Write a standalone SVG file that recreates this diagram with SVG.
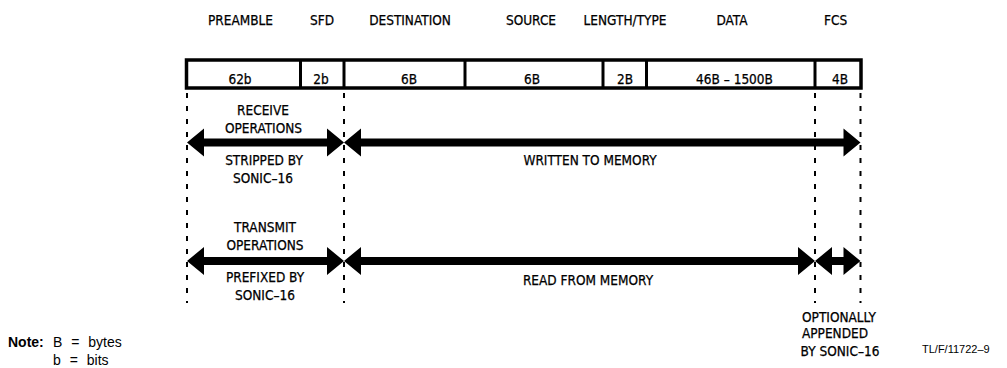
<svg xmlns="http://www.w3.org/2000/svg" width="1007" height="368" viewBox="0 0 1007 368">
<style>
.t{font-family:"DejaVu Sans Condensed","DejaVu Sans",sans-serif;font-size:13.5px;fill:#000;stroke:#000;stroke-width:0.25;text-anchor:middle}
.n{font-family:"Liberation Sans",Arial,sans-serif;font-size:14px;fill:#000;word-spacing:5px}
.id{font-family:"Liberation Sans",Arial,sans-serif;font-size:11px;fill:#000}
.box{fill:#fff;stroke:#000;stroke-width:3.5}
.div{stroke:#000;stroke-width:3}
.dash{stroke:#000;stroke-width:2;stroke-dasharray:5 8;fill:none}
.arr{fill:#000}
</style>
<rect width="1007" height="368" fill="#fff"/>
<g id="headers">
<text class="t" x="240.5" y="25">PREAMBLE</text>
<text class="t" x="322" y="25">SFD</text>
<text class="t" x="410" y="25">DESTINATION</text>
<text class="t" x="531" y="25">SOURCE</text>
<text class="t" x="625" y="25">LENGTH/TYPE</text>
<text class="t" x="732" y="25">DATA</text>
<text class="t" x="835.5" y="25">FCS</text>
</g>
<g id="frame">
<rect class="box" x="186.5" y="60" width="674.5" height="28"/>
<line class="div" x1="300.5" y1="60" x2="300.5" y2="88"/>
<line class="div" x1="344" y1="60" x2="344" y2="88"/>
<line class="div" x1="465" y1="60" x2="465" y2="88"/>
<line class="div" x1="603" y1="60" x2="603" y2="88"/>
<line class="div" x1="646.5" y1="60" x2="646.5" y2="88"/>
<line class="div" x1="815" y1="60" x2="815" y2="88"/>
<text class="t" x="240" y="84">62b</text>
<text class="t" x="321" y="84">2b</text>
<text class="t" x="409" y="84">6B</text>
<text class="t" x="532" y="84">6B</text>
<text class="t" x="625" y="84">2B</text>
<text class="t" x="734.5" y="84">46B – 1500B</text>
<text class="t" x="840" y="84">4B</text>
</g>
<g id="connectors">
<line class="dash" x1="187" y1="93" x2="187" y2="303"/>
<line class="dash" x1="344" y1="93" x2="344" y2="303"/>
<line class="dash" x1="815" y1="93" x2="815" y2="303"/>
<line class="dash" x1="860.5" y1="93" x2="860.5" y2="303"/>
<path class="arr" d="M187,142.5 L204,128.5 L204,138.5 L327,138.5 L327,128.5 L344,142.5 L327,156.5 L327,146.5 L204,146.5 L204,156.5 Z"/>
<path class="arr" d="M344,142.5 L361,128.5 L361,138.5 L843.5,138.5 L843.5,128.5 L860.5,142.5 L843.5,156.5 L843.5,146.5 L361,146.5 L361,156.5 Z"/>
<path class="arr" d="M187,261 L204,247 L204,257 L327,257 L327,247 L344,261 L327,275 L327,265 L204,265 L204,275 Z"/>
<path class="arr" d="M344,261 L361,247 L361,257 L798,257 L798,247 L815,261 L798,275 L798,265 L361,265 L361,275 Z"/>
<path class="arr" d="M815,261 L832,247 L832,257 L843.5,257 L843.5,247 L860.5,261 L843.5,275 L843.5,265 L832,265 L832,275 Z"/>
</g>
<g id="receive">
<text class="t" x="263" y="115">RECEIVE</text>
<text class="t" x="263.5" y="133">OPERATIONS</text>
<text class="t" x="264" y="165">STRIPPED BY</text>
<text class="t" x="263" y="183">SONIC–16</text>
<text class="t" x="590" y="165">WRITTEN TO MEMORY</text>
</g>
<g id="transmit">
<text class="t" x="265" y="232">TRANSMIT</text>
<text class="t" x="265" y="250">OPERATIONS</text>
<text class="t" x="265" y="282">PREFIXED BY</text>
<text class="t" x="265" y="300">SONIC–16</text>
<text class="t" x="588" y="285">READ FROM MEMORY</text>
<text class="t" x="839" y="322">OPTIONALLY</text>
<text class="t" x="835" y="338">APPENDED</text>
<text class="t" x="840" y="356">BY SONIC–16</text>
</g>
<g id="note">
<text class="n" x="8" y="347"><tspan font-weight="bold">Note:</tspan><tspan x="53">B = bytes</tspan></text>
<text class="n" x="53" y="365">b = bits</text>
<text class="id" x="922" y="353">TL/F/11722–9</text>
</g>
</svg>
